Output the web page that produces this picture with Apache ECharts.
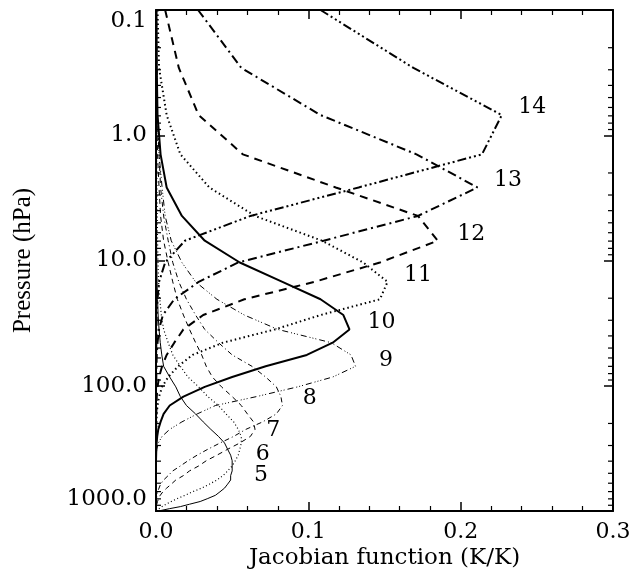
<!DOCTYPE html>
<html>
<head>
<meta charset="utf-8">
<script src="https://cdn.jsdelivr.net/npm/echarts@6/dist/echarts.min.js"></script>
<style>
  html, body { margin: 0; padding: 0; background: #fff; }
  #chart { width: 636px; height: 574px; }
</style>
</head>
<body>
<div id="chart"></div>
<script>
// Pressure levels of the profile grid (hPa)
const levels = [0.1, 0.29, 0.69, 1.42, 2.611, 4.407, 6.95, 10.37, 14.81, 20.4, 27.26, 35.51,
  45.29, 56.73, 69.97, 85.18, 102.05, 122.04, 143.84, 167.95, 194.36, 222.94, 253.71, 286.6,
  321.5, 358.28, 396.81, 436.95, 478.54, 521.46, 565.54, 610.6, 656.43, 702.73, 749.12,
  795.09, 839.95, 882.8, 922.46, 957.44, 985.88, 1005.43, 1013.25];

// Temperature Jacobians (K/K) per channel, one value per level
const ch5  = [0, 0, 0, 0.0001, 0.0002, 0.0003, 0.0004, 0.0005, 0.0007, 0.001, 0.0014, 0.002,
  0.0028, 0.0038, 0.005, 0.009, 0.013, 0.016, 0.02, 0.026, 0.031, 0.036, 0.041, 0.045,
  0.047, 0.049, 0.05, 0.05, 0.05, 0.049, 0.049, 0.047, 0.045, 0.042, 0.039,
  0.034, 0.029, 0.022, 0.016, 0.009, 0.004, 0.001, 0];
const ch6  = [0.0001, 0.0002, 0.0003, 0.0004, 0.0006, 0.0008, 0.001, 0.0013, 0.0017, 0.0025, 0.0035, 0.005,
  0.008, 0.011, 0.016, 0.021, 0.028, 0.034, 0.041, 0.046, 0.051, 0.054, 0.056, 0.056,
  0.055, 0.054, 0.052, 0.05, 0.047, 0.044, 0.04, 0.035, 0.03, 0.024, 0.019,
  0.014, 0.01, 0.0066, 0.004, 0.002, 0.0007, 0, 0];
const ch7  = [0.0002, 0.0003, 0.0006, 0.001, 0.002, 0.003, 0.005, 0.008, 0.011, 0.014, 0.018, 0.022,
  0.026, 0.03, 0.033, 0.037, 0.043, 0.05, 0.056, 0.06, 0.064, 0.065, 0.062, 0.055,
  0.047, 0.04, 0.033, 0.028, 0.022, 0.018, 0.013, 0.01, 0.007, 0.0045, 0.0028,
  0.0017, 0.001, 0.0005, 0.0003, 0.0002, 0.0001, 0, 0];
const ch8  = [0.0004, 0.0006, 0.001, 0.002, 0.003, 0.005, 0.008, 0.011, 0.015, 0.02, 0.026, 0.032,
  0.041, 0.05, 0.063, 0.072, 0.079, 0.082, 0.083, 0.079, 0.07, 0.059, 0.051, 0.042,
  0.034, 0.027, 0.021, 0.016, 0.011, 0.008, 0.005, 0.003, 0.002, 0.001, 0.0006,
  0.0003, 0.0002, 0.0001, 0, 0, 0, 0, 0];
const ch9  = [0.0003, 0.0005, 0.001, 0.002, 0.004, 0.006, 0.01, 0.017, 0.026, 0.04, 0.058, 0.08,
  0.115, 0.128, 0.131, 0.116, 0.093, 0.066, 0.039, 0.027, 0.017, 0.009, 0.004, 0.0015,
  0.0005, 0.0002, 0, 0, 0, 0, 0, 0, 0, 0, 0,
  0, 0, 0, 0, 0, 0, 0, 0];
const ch10 = [0.0003, 0.0005, 0.001, 0.003, 0.007, 0.017, 0.032, 0.055, 0.083, 0.108, 0.123, 0.127,
  0.116, 0.099, 0.072, 0.05, 0.032, 0.018, 0.009, 0.005, 0.003, 0.0015, 0.0008, 0.0004,
  0.0002, 0.0001, 0, 0, 0, 0, 0, 0, 0, 0, 0,
  0, 0, 0, 0, 0, 0, 0, 0];
const ch11 = [0.001, 0.002, 0.007, 0.016, 0.035, 0.065, 0.109, 0.136, 0.152, 0.147, 0.108, 0.078,
  0.044, 0.024, 0.0145, 0.008, 0.004, 0.002, 0.001, 0.0005, 0.0003, 0.0002, 0.0001, 0,
  0, 0, 0, 0, 0, 0, 0, 0, 0, 0, 0,
  0, 0, 0, 0, 0, 0, 0, 0];
const ch12 = [0.006, 0.015, 0.028, 0.057, 0.118, 0.172, 0.185, 0.147, 0.104, 0.058, 0.031, 0.018,
  0.012, 0.007, 0.004, 0.002, 0.001, 0.0005, 0.0003, 0.0002, 0.0001, 0, 0, 0,
  0, 0, 0, 0, 0, 0, 0, 0, 0, 0, 0,
  0, 0, 0, 0, 0, 0, 0, 0];
const ch13 = [0.0276, 0.056, 0.108, 0.171, 0.211, 0.172, 0.11, 0.054, 0.028, 0.012, 0.0045, 0.002,
  0.001, 0.0005, 0.0003, 0.0002, 0.0001, 0, 0, 0, 0, 0, 0, 0,
  0, 0, 0, 0, 0, 0, 0, 0, 0, 0, 0,
  0, 0, 0, 0, 0, 0, 0, 0];
const ch14 = [0.108, 0.169, 0.227, 0.214, 0.133, 0.062, 0.019, 0.006, 0.002, 0.001, 0.0005, 0.0003,
  0.0002, 0.0001, 0, 0, 0, 0, 0, 0, 0, 0, 0, 0,
  0, 0, 0, 0, 0, 0, 0, 0, 0, 0, 0,
  0, 0, 0, 0, 0, 0, 0, 0];

const channelNames = ['5', '6', '7', '8', '9', '10', '11', '12', '13', '14'];
const channelValues = [ch5, ch6, ch7, ch8, ch9, ch10, ch11, ch12, ch13, ch14];
// Where each channel number is written: [Jacobian, pressure]
const channelLabelAt = [[0.069, 515], [0.070, 352], [0.077, 226], [0.101, 125], [0.151, 62.4],
  [0.148, 31.0], [0.172, 13.1], [0.207, 6.17], [0.231, 2.29], [0.247, 0.60]];

// Axis tick labels
const xTickLabels = ['0.0', '0.1', '0.2', '0.3'];
const yTickLabels = ['0.1', '1.0', '10.0', '100.0', '1000.0'];
// Intermediate pressures that carry short log ticks
const minorTickPressures = [0.2, 0.3, 0.4, 0.5, 0.6, 0.7, 0.8, 0.9,
  2, 3, 4, 5, 6, 7, 8, 9, 20, 30, 40, 50, 60, 70, 80, 90,
  200, 300, 400, 500, 600, 700, 800, 900];

// Line styles: thin for channels 5-9, heavy for 10-14
const channelStyles = [
  { width: 1, type: 'solid' },
  { width: 1.2, type: [1, 2.5] },
  { width: 1, type: [5, 4] },
  { width: 1, type: [5, 3, 1, 3] },
  { width: 1, type: [6, 3, 1, 2, 1, 2, 1, 3] },
  { width: 2, type: 'solid' },
  { width: 2, type: [1.5, 3] },
  { width: 2, type: [8, 6] },
  { width: 2, type: [9, 4, 2, 4] },
  { width: 2, type: [9, 3, 2, 3, 2, 3, 2, 3] }
];

const FONT = 'DejaVu Serif';
const ink = '#000';

const lineSeries = channelValues.map((vals, k) => ({
  type: 'line',
  name: 'Channel ' + channelNames[k],
  xAxisIndex: 0,
  yAxisIndex: 0,
  data: levels.map((p, i) => [vals[i], p]),
  showSymbol: false,
  symbol: 'none',
  smooth: false,
  clip: true,
  lineStyle: { color: ink, width: channelStyles[k].width, type: channelStyles[k].type, cap: 'butt' },
  z: 3
}));

const labelSeries = {
  type: 'scatter',
  xAxisIndex: 0,
  yAxisIndex: 0,
  symbol: 'circle',
  symbolSize: 0,
  itemStyle: { color: ink, opacity: 1 },
  data: channelLabelAt.map((pos, k) => ({ value: pos, name: channelNames[k] })),
  label: {
    show: true,
    position: 'inside',
    formatter: p => p.name,
    fontFamily: FONT,
    fontSize: 22,
    color: ink,
    opacity: 1,
    textBorderWidth: 0,
    textBorderColor: 'transparent',
    align: 'center',
    verticalAlign: 'middle'
  },
  silent: true,
  z: 4
};

const minorTickSeries = {
  type: 'custom',
  xAxisIndex: 0,
  yAxisIndex: 0,
  silent: true,
  clip: false,
  data: minorTickPressures.map(p => [0, p]),
  renderItem(params, api) {
    const y = api.coord([0, api.value(1)])[1];
    const cs = params.coordSys;
    return {
      type: 'group',
      children: [
        { type: 'line', shape: { x1: cs.x, y1: y, x2: cs.x + 5, y2: y }, style: { stroke: ink, lineWidth: 1.2 } },
        { type: 'line', shape: { x1: cs.x + cs.width, y1: y, x2: cs.x + cs.width - 5, y2: y }, style: { stroke: ink, lineWidth: 1.2 } }
      ]
    };
  },
  z: 5
};

const axisLineStyle = { show: true, onZero: false, lineStyle: { color: ink, width: 2 } };
const majorTick = { show: true, inside: true, length: 9, lineStyle: { color: ink, width: 1.5 } };
const minorTick = { show: true, splitNumber: 5, length: 5, lineStyle: { color: ink, width: 1.2 } };

const chart = echarts.init(document.getElementById('chart'), null, { renderer: 'canvas' });
chart.setOption({
  animation: false,
  backgroundColor: '#fff',
  grid: { left: 156, right: 23, top: 10, bottom: 63, containLabel: false, outerBoundsMode: 'none' },
  xAxis: [
    {
      type: 'value', min: 0, max: 0.3, interval: 0.1, position: 'bottom',
      axisLine: axisLineStyle, axisTick: majorTick, minorTick: minorTick,
      splitLine: { show: false }, minorSplitLine: { show: false },
      axisLabel: {
        formatter: v => xTickLabels[Math.round(v * 10)],
        fontFamily: FONT, fontSize: 22, color: ink, margin: 10
      },
      name: 'Jacobian function (K/K)', nameLocation: 'middle', nameGap: 36, nameMoveOverlap: false,
      nameTextStyle: { fontFamily: FONT, fontSize: 23, color: ink }
    },
    {
      type: 'value', min: 0, max: 0.3, interval: 0.1, position: 'top',
      axisLine: axisLineStyle, axisTick: majorTick, minorTick: minorTick,
      splitLine: { show: false }, minorSplitLine: { show: false },
      axisLabel: { show: false }
    }
  ],
  yAxis: [
    {
      type: 'log', logBase: 10, min: 0.1, max: 1000, inverse: true, position: 'left',
      axisLine: axisLineStyle, axisTick: majorTick,
      splitLine: { show: false },
      axisLabel: {
        formatter: v => yTickLabels[Math.round(Math.log10(v)) + 1],
        fontFamily: FONT, fontSize: 23, color: ink, margin: 9,
        verticalAlignMinLabel: 'top', verticalAlignMaxLabel: 'bottom'
      },
      name: 'Pressure (hPa)', nameLocation: 'middle', nameRotate: 90, nameGap: 120, nameMoveOverlap: false,
      nameTextStyle: { fontFamily: 'Liberation Serif', fontSize: 25, color: ink }
    },
    {
      type: 'log', logBase: 10, min: 0.1, max: 1000, inverse: true, position: 'right',
      axisLine: axisLineStyle, axisTick: majorTick,
      splitLine: { show: false },
      axisLabel: { show: false }
    }
  ],
  series: [...lineSeries, labelSeries, minorTickSeries]
});
</script>
</body>
</html>
